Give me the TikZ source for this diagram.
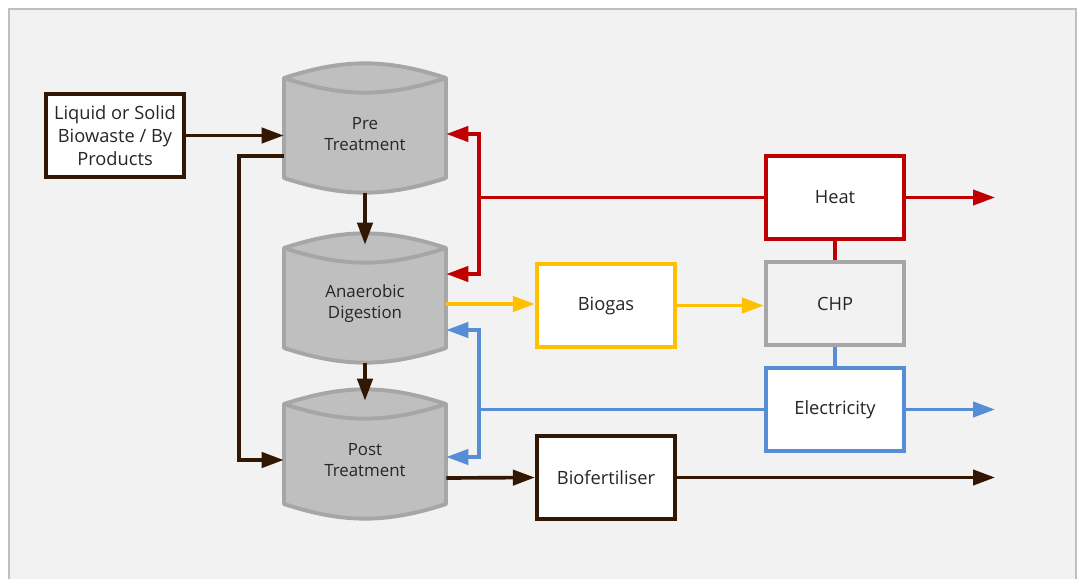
\documentclass[tikz,border=0pt]{standalone}
\usepackage{fontspec}
\setmainfont{Open Sans}
\usetikzlibrary{arrows.meta,positioning,calc,backgrounds}
\definecolor{flowbrown}{RGB}{50,24,4}
\definecolor{heatred}{RGB}{192,0,0}
\definecolor{gasyellow}{RGB}{255,192,0}
\definecolor{elecblue}{RGB}{85,142,213}
\definecolor{tankgray}{RGB}{191,191,191}
\definecolor{edgegray}{RGB}{166,166,166}
\definecolor{panelbg}{RGB}{242,242,242}
\definecolor{labeltext}{RGB}{38,38,38}
\tikzset{
  flowarr/.style={-{Triangle[length=5.5mm,width=3.8mm]}, line width=2.6pt},
  brownarr/.style={flowarr, flowbrown},
  redarr/.style={flowarr, heatred},
  gasarr/.style={flowarr, gasyellow},
  bluearr/.style={flowarr, elecblue},
  redline/.style={line width=2.6pt, heatred},
  blueline/.style={line width=2.6pt, elecblue},
  unitbox/.style={draw, line width=3pt, fill=white, minimum width=3.45cm,
                  minimum height=2.075cm, align=center, text=labeltext,
                  font=\fontsize{13}{16.3}\selectfont},
  tank/.style={minimum width=4.05cm, minimum height=2.95cm, align=center,
               text=labeltext, font=\fontsize{12}{14.9}\selectfont},
  tankbody/.style={fill=tankgray, draw=edgegray, line width=2.8pt, line join=round},
  tankrim/.style={draw=edgegray, line width=2.8pt},
}

\begin{document}
\begin{tikzpicture}[x=0.025cm, y=0.025cm]
    \useasboundingbox (0,0) rectangle (1077,-578);
    % --- units
    \node[unitbox, draw=flowbrown] (src) at (115,-135.5) {Liquid or Solid\\Biowaste / By\\Products};
    \node[tank] (pre)  at (365,-134) {Pre\\Treatment};
    \node[tank] (ad)   at (365,-304) {Anaerobic\\Digestion};
    \node[tank] (post) at (365,-460) {Post\\Treatment};
    \node[unitbox, draw=gasyellow] (biogas) at (606,-305.5) {Biogas};
    \node[unitbox, draw=edgegray, fill=panelbg] (chp) at (835,-303.5) {CHP};
    \node[unitbox, draw=heatred] (heat) at (835,-197.5) {Heat};
    \node[unitbox, draw=elecblue] (elec) at (835,-409.5) {Electricity};
    \node[unitbox, draw=flowbrown] (biofert) at (606,-477.5) {Biofertiliser};
    \coordinate (redj) at (479,-197.5);
    \coordinate (bluej) at (479,-409.5);
    \coordinate (heatout) at (995,-197.5);
    \coordinate (elecout) at (995,-409.5);
    \coordinate (fertout) at (995,-477.5);
    % --- panel and tanks behind the text
    \begin{scope}[on background layer]
      \fill[white] (0,0) rectangle (1077,-578);
      \filldraw[fill=panelbg, draw=tankgray, line width=1.2pt] (9,-9) rectangle (1076,-600);
      \foreach \n in {pre,ad,post}{
        \filldraw[tankbody] ($(\n.center)+(-81,56)$) to[bend left=18] ($(\n.center)+(81,56)$)
          -- ($(\n.center)+(81,-44)$) to[bend left=18] ($(\n.center)+(-81,-44)$) -- cycle;
        \draw[tankrim] ($(\n.center)+(-81,56)$) to[bend right=18] ($(\n.center)+(81,56)$);
      }
    \end{scope}
    % --- material flow
    \draw[brownarr] (src.east) -- (src.east -| pre.west);
    \draw[brownarr] (pre.south) -- (ad.north);
    \draw[brownarr] (ad.south) -- (post.north);
    \draw[brownarr] ($(pre.west)+(0,-22)$) -- ++(-45,0) |- (post.west);
    \draw[brownarr] ($(post.east)+(0,-18)$) -- (biofert.west |- fertout);
    \draw[brownarr] (biofert.east) -- (fertout);
    % --- gas
    \draw[gasarr] (ad.east) -- (ad.east -| biogas.west);
    \draw[gasarr] (biogas.east) -- (biogas.east -| chp.west);
    % --- heat
    \draw[redline] (heat.south) -- (chp.north);
    \draw[redline] (heat.west) -- (redj);
    \draw[redarr] (redj) |- (pre.east);
    \draw[redarr] (redj) |- ($(ad.east)+(0,30)$);
    \draw[redarr] (heat.east) -- (heatout);
    % --- electricity
    \draw[blueline] (chp.south) -- (elec.north);
    \draw[blueline] (elec.west) -- (bluej);
    \draw[bluearr] (bluej) |- ($(ad.east)+(0,-26)$);
    \draw[bluearr] (bluej) |- ($(post.east)+(0,3)$);
    \draw[bluearr] (elec.east) -- (elecout);
\end{tikzpicture}
\end{document}
